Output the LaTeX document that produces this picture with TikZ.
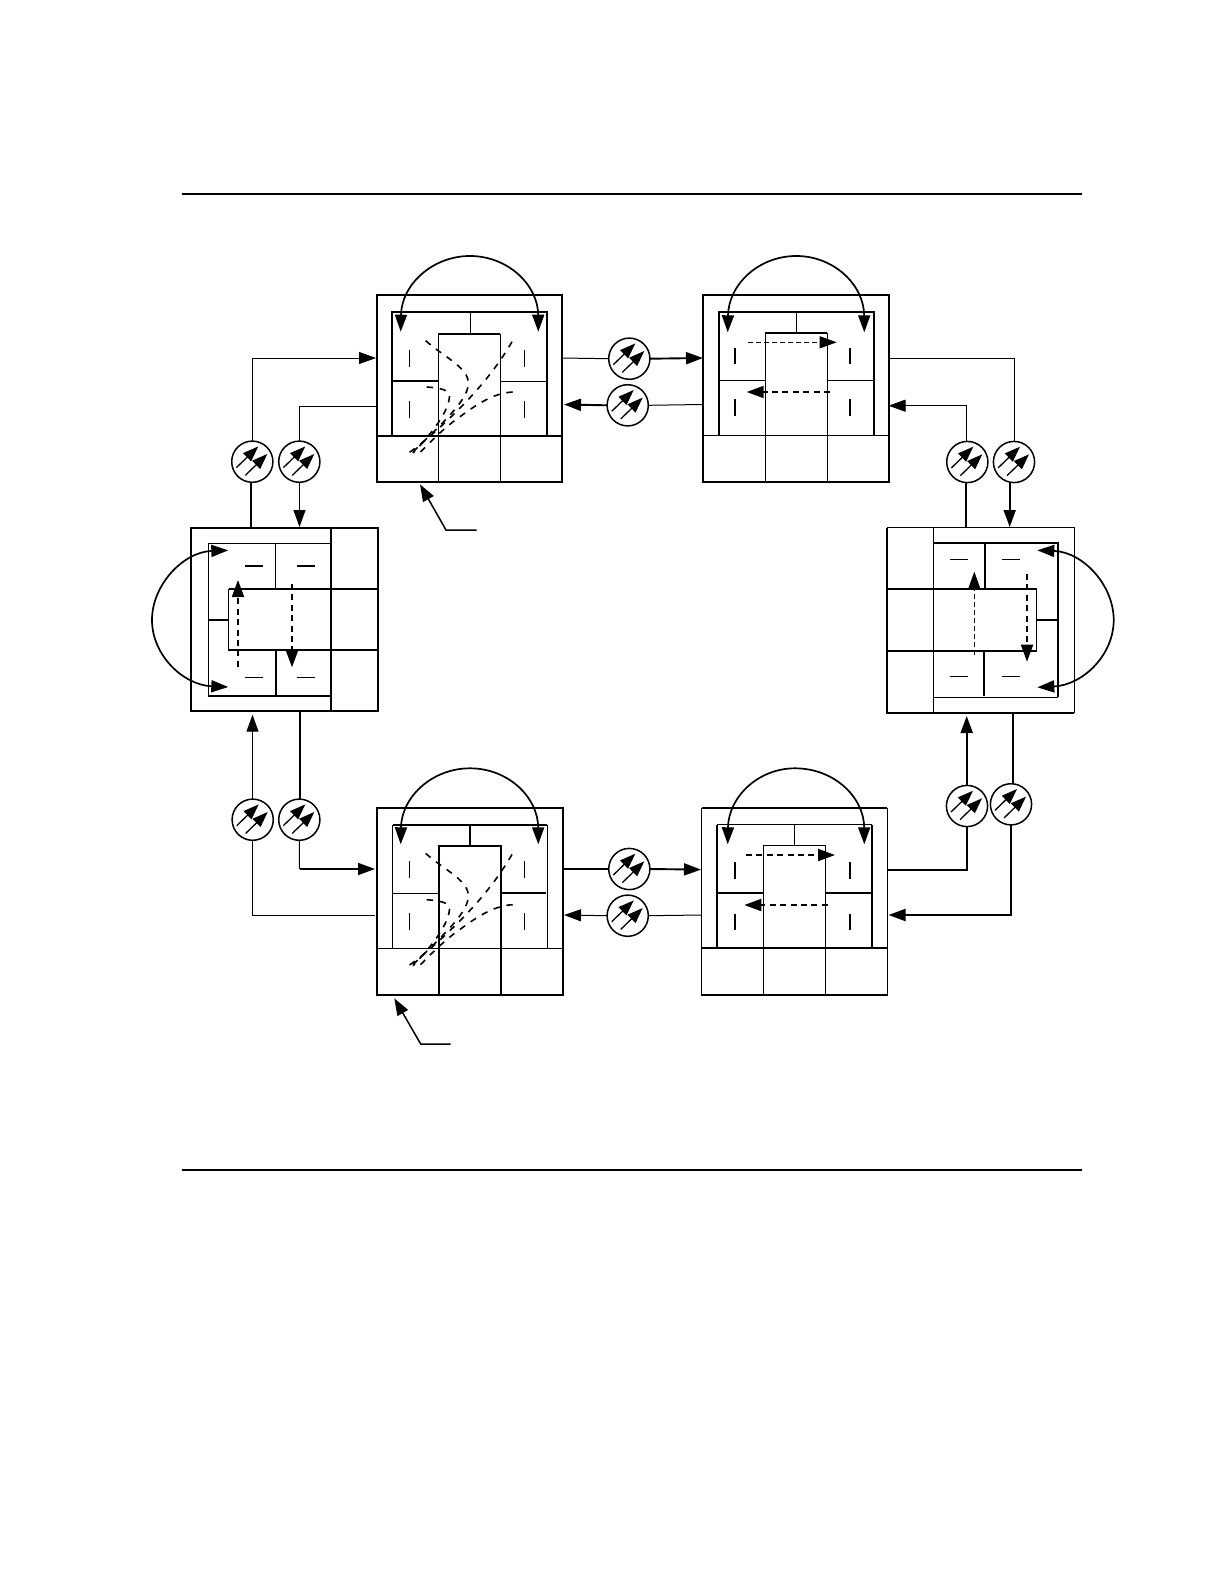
\documentclass[tikz,border=0pt]{standalone}
\usetikzlibrary{arrows.meta}
\tikzset{
  thinl/.style={line width=0.5pt},
  thickl/.style={line width=0.95pt},
  arr/.style={-{Triangle[length=8.5pt,width=6pt]}},
  darr/.style={{Triangle[length=8.5pt,width=6pt]}-{Triangle[length=8.5pt,width=6pt]},line width=0.85pt},
  outerbox/.style={rectangle,draw,fill=white,inner sep=0pt,outer sep=0pt},
  ampnode/.style={circle,draw,line width=0.75pt,fill=white,inner sep=0pt,outer sep=0pt,minimum size=20.6pt},
  ampa/.style={line width=0.65pt,-{Triangle[length=7.8pt,width=5.6pt]}},
  dashthin/.style={thinl,dash pattern=on 2.4pt off 1.6pt},
  dashthick/.style={line width=0.95pt,dash pattern=on 3pt off 2.2pt},
  dcurve/.style={line width=0.8pt,dash pattern=on 3.2pt off 3.4pt},
  tick/.style={line width=0.65pt},
}
\newcommand{\ampl}[3]{%
  \node[ampnode] (#1) at (#2,#3) {};
  \begin{scope}[shift={(#2,#3)}]
    \draw[ampa] (-16,6) -- (6,-15.3);
    \draw[ampa] (-7,13.7) -- (15,-7.7);
  \end{scope}}
\newcommand{\bx}[6]{%
  \node[outerbox,#6,minimum width={(#4-#2)*0.5pt},minimum height={(#5-#3)*0.5pt}] (#1) at ({(#2+#4)/2},{(#3+#5)/2}) {};}
\newcommand{\fan}[2]{%
  \begin{scope}[shift={(#1,#2)}]
    \draw[dcurve] (425.7,340.7) .. controls (445,358) and (470,368) .. (468.3,385) .. controls (466,403) and (440,425) .. (410,455);
    \draw[dcurve] (426.7,387) .. controls (440,388) and (450,390) .. (449.5,396) .. controls (449,410) and (435,430) .. (413,453);
    \draw[dcurve] (512,341.7) .. controls (498,366) and (480,388) .. (460,408) .. controls (445,423) and (425,442) .. (407,454);
    \draw[dcurve] (512.7,392) .. controls (495,393) and (480,402) .. (460,416.7) .. controls (445,427) and (430,442) .. (416.7,456);
  \end{scope}}
\begin{document}
\begin{tikzpicture}[x=0.5pt,y=-0.5pt,line cap=butt,line join=miter]
\useasboundingbox (0,0) rectangle (1224,1584);
\fill[white] (0,0) rectangle (1224,1584);

% page rules
\coordinate (ruleAa) at (181.5,194); \coordinate (ruleAb) at (1082,194);
\coordinate (ruleBa) at (181.5,1170); \coordinate (ruleBb) at (1082,1170);
\draw[thickl] (ruleAa) -- (ruleAb);
\draw[thickl] (ruleBa) -- (ruleBb);

% ---- top-left switch
\bx{TL}{376.7}{295}{562}{481.7}{thickl}
\draw[thickl] (376.7,435.7) -- (562,435.7);
\draw[thickl] (392,435.7) -- (392,311.7) -- (547,311.7) -- (547,435.7);
\draw[thickl] (438.3,334) -- (500.3,334);
\draw[thickl] (470.5,311.7) -- (470.5,334);
\draw[thinl] (438.3,334) -- (438.3,481.7);
\draw[thinl] (500.3,334) -- (500.3,481.7);
\draw[thickl] (392,380.7) -- (438.3,380.7);
\draw[thinl] (500.3,381.3) -- (547,381.3);
\foreach \x in {409.7,524.7}{\draw[tick] (\x,350) -- (\x,366.7); \draw[tick] (\x,401.3) -- (\x,418);}
\coordinate (TLal) at (400.7,331.7); \coordinate (TLar) at (538.3,331.7);
\draw[darr] (TLal) .. controls (401.5,285) and (432,256) .. (470,256) .. controls (508,256) and (538,285) .. (TLar);
\fan{0}{0}

% ---- top-right switch
\bx{TR}{703}{295}{889.3}{481.7}{thickl}
\draw[thinl] (703,435.3) -- (889.3,435.3);
\draw[thickl] (719,435.3) -- (719,311.7) -- (873.7,311.7) -- (873.7,435.3);
\draw[thickl] (765.3,332.7) -- (827.3,332.7);
\draw[thinl] (796.3,311.7) -- (796.3,332.7);
\draw[thinl] (765.3,332.7) -- (765.3,481.7);
\draw[thinl] (827.3,332.7) -- (827.3,481.7);
\draw[thinl] (719,380.3) -- (765.3,380.3);
\draw[thinl] (827.3,380.3) -- (873.7,380.3);
\foreach \x in {735,850}{\draw[tick] (\x,347.7) -- (\x,364.3); \draw[tick] (\x,399.3) -- (\x,416.3);}
\coordinate (TRal) at (727.7,332.3); \coordinate (TRar) at (864.3,332.3);
\draw[darr] (TRal) .. controls (728.5,285) and (758,256) .. (796.3,256) .. controls (834,256) and (864,285) .. (TRar);
\coordinate (TRd1a) at (748.3,342.3); \coordinate (TRd1b) at (836.7,342.3);
\coordinate (TRd2a) at (830,392); \coordinate (TRd2b) at (746.7,392);
\draw[dashthin,arr] (TRd1a) -- (TRd1b);
\draw[dashthick,arr] (TRd2a) -- (TRd2b);

% ---- bottom-left switch
\bx{BL}{377}{808}{563}{995}{thickl}
\draw[thinl] (377,948.3) -- (563,948.3);
\draw[thinl] (392.7,948.3) -- (392.7,825);
\draw[thinl] (547.3,825) -- (547.3,948.3);
\draw[thickl] (392.7,825) -- (547.3,825);
\draw[thickl] (439,995) -- (439,845.7) -- (501,845.7) -- (501,995);
\draw[thickl] (469.7,825) -- (469.7,845.7);
\draw[thinl] (392.7,893.3) -- (439,893.3);
\draw[thickl] (501,892.7) -- (545.7,892.7);
\foreach \x in {409.7,524.7}{\draw[tick] (\x,861) -- (\x,877.5); \draw[tick] (\x,913) -- (\x,929.5);}
\coordinate (BLal) at (400.7,844.3); \coordinate (BLar) at (538.3,844.3);
\draw[darr] (BLal) .. controls (401.5,797) and (432,768.3) .. (470,768.3) .. controls (508,768.3) and (538,797) .. (BLar);
\fan{0}{512.7}

% ---- bottom-right switch
\bx{BR}{701.7}{808}{887.3}{995}{thinl}
\draw[thickl] (701.7,808) -- (887.3,808);
\draw[thickl] (701.7,995) -- (887.3,995);
\draw[thickl] (701.7,947.7) -- (887.3,947.7);
\draw[thickl] (717,947.7) -- (717,824.7);
\draw[thickl] (872.3,824.7) -- (872.3,947.7);
\draw[thinl] (717,824.7) -- (872.3,824.7);
\draw[thinl] (763.3,995) -- (763.3,845.3) -- (825.3,845.3) -- (825.3,995);
\draw[thinl] (794.3,824.7) -- (794.3,845.3);
\draw[thickl] (717,893) -- (763.3,893);
\draw[thickl] (825.3,893) -- (872.3,893);
\foreach \x in {735,850}{\draw[tick] (\x,862.3) -- (\x,878.7); \draw[tick] (\x,913.7) -- (\x,930);}
\coordinate (BRal) at (727.7,844.3); \coordinate (BRar) at (864.3,844.3);
\draw[darr] (BRal) .. controls (728.5,797) and (758,768.3) .. (795,768.3) .. controls (834,768.3) and (864,797) .. (BRar);
\coordinate (BRd1a) at (746,855); \coordinate (BRd1b) at (835,855);
\coordinate (BRd2a) at (827.7,905); \coordinate (BRd2b) at (744.3,905);
\draw[dashthick,arr] (BRd1a) -- (BRd1b);
\draw[dashthick,arr] (BRd2a) -- (BRd2b);

% ---- left switch
\bx{LL}{191}{528}{378}{711}{thickl}
\draw[thickl] (331,528) -- (331,711);
\draw[thickl] (228.7,589) -- (378,589);
\draw[thickl] (228,650) -- (378,650);
\draw[thinl] (228.7,589) -- (228.7,650);
\draw[thinl] (331,543.7) -- (208,543.7) -- (208,695.7);
\draw[thickl] (208,695.7) -- (331,695.7);
\draw[thickl] (208,620) -- (228.7,620);
\draw[thinl] (275.3,543.7) -- (275.3,589);
\draw[thickl] (276,650) -- (276,695.7);
\foreach \x/\y in {245.3/262.7,297.3/314.7}{\draw[tick] (\x,566) -- (\y,566); \draw[tick] (\x,677.7) -- (\y,677.7);}
\coordinate (LLat) at (228.3,550.3); \coordinate (LLab) at (228.3,687);
\draw[darr] (LLat) .. controls (183,552) and (152,585) .. (152,620) .. controls (152,655) and (183,685) .. (LLab);
\coordinate (LLd1a) at (238,666.7); \coordinate (LLd1b) at (238,580);
\coordinate (LLd2a) at (292,584); \coordinate (LLd2b) at (292,667.3);
\draw[dashthick,arr] (LLd1a) -- (LLd1b);
\draw[dashthick,arr] (LLd2a) -- (LLd2b);

% ---- right switch
\bx{RR}{887}{527.7}{1074}{712.7}{thinl}
\draw[thickl] (887,527.7) -- (887,712.7) -- (1074,712.7);
\draw[thinl] (933.3,527.7) -- (933.3,712.7);
\draw[thickl] (933.3,543.3) -- (1058,543.3) -- (1058,697);
\draw[thinl] (933.3,697) -- (1058,697);
\draw[thickl] (887,589) -- (1037.3,589);
\draw[thickl] (887,650.7) -- (1037.3,650.7);
\draw[thinl] (1036.3,589) -- (1036.3,650.7);
\draw[thickl] (1036.3,620) -- (1058,620);
\draw[thickl] (985,543.3) -- (985,590);
\draw[thickl] (984,650.7) -- (984,696);
\foreach \x/\y in {950.3/968,1002.3/1020}{\draw[tick] (\x,559.7) -- (\y,559.7); \draw[tick] (\x,676.3) -- (\y,676.3);}
\coordinate (RRat) at (1037.3,550.3); \coordinate (RRab) at (1037.3,687.3);
\draw[darr] (RRat) .. controls (1083,552) and (1113.7,585) .. (1113.7,620) .. controls (1113.7,655) and (1083,685) .. (RRab);
\coordinate (RRd1a) at (974.3,655); \coordinate (RRd1b) at (974.3,571.7);
\coordinate (RRd2a) at (1027,574); \coordinate (RRd2b) at (1027,661.7);
\draw[dashthin,arr] (RRd1a) -- (RRd1b);
\draw[dashthick,arr] (RRd2a) -- (RRd2b);

% ---- amplifiers
\ampl{cTa}{629.3}{358.7}
\ampl{cTb}{627.7}{405.3}
\ampl{cBa}{629.3}{869}
\ampl{cBb}{627.7}{915.7}
\ampl{cLa}{252.3}{461.7}
\ampl{cLb}{299.3}{461.7}
\ampl{cRa}{967.3}{462}
\ampl{cRb}{1014}{462}
\ampl{cSLa}{252.7}{819.7}
\ampl{cSLb}{299.3}{819.7}
\ampl{cSRa}{967}{806}
\ampl{cSRb}{1011}{804.3}

% ---- ports
\coordinate (pTLw1) at (376,358);   \coordinate (pTLw2) at (376,406);
\coordinate (pTLe1) at (562,358);   \coordinate (pTLe2) at (564,404.5);
\coordinate (pTRw1) at (703,358);   \coordinate (pTRw2) at (702,404.5);
\coordinate (pTRe1) at (889.3,358); \coordinate (pTRe2) at (888.5,405.7);
\coordinate (pLLn1) at (251,528);   \coordinate (pLLn2) at (299.5,527);
\coordinate (pLLs1) at (252.5,714.7); \coordinate (pLLs2) at (299.7,711);
\coordinate (pRRn1) at (966,527.7); \coordinate (pRRn2) at (1009.7,527);
\coordinate (pRRs1) at (966.7,716); \coordinate (pRRs2) at (1012.7,712.7);
\coordinate (pBLw1) at (375,869);   \coordinate (pBLw2) at (375,915);
\coordinate (pBLe1) at (563,869);   \coordinate (pBLe2) at (564,915);
\coordinate (pBRw1) at (701,869.6); \coordinate (pBRw2) at (701.7,915);
\coordinate (pBRe1) at (887.3,869.6); \coordinate (pBRe2) at (888.5,915);
\coordinate (pSLbend) at (299.5,869);

% ---- connectors
\draw[thinl,arr] (cLa.north) |- (pTLw1);
\draw[thinl] (cLb.north) |- (pTLw2);
\draw[thickl] (pLLn1 |- cLa.south) -- (pLLn1);
\draw[thinl,arr] (pLLn2 |- cLb.south) -- (pLLn2);

\draw[thinl] (pTLe1) -- (cTa.west);
\draw[thickl,arr] (cTa.east) -- (pTRw1);
\draw[thinl] (pTRw2) -- (cTb.east);
\draw[thickl,arr] (cTb.west) -- (pTLe2);

\draw[thinl] (pTRe1) -| (cRb.north);
\draw[thinl,arr] (pRRn1 |- cRa.north) |- (pTRe2);
\draw[thickl] (pRRn1 |- cRa.south) -- (pRRn1);
\draw[thickl,arr] (pRRn2 |- cRb.south) -- (pRRn2);

\draw[thickl,arr] (pRRs1 |- cSRa.north) -- (pRRs1);
\draw[thickl] (pRRs2 |- cSRb.north) -- (pRRs2);
\draw[thickl] (cSRa.south) |- (pBRe1);
\draw[thickl,arr] (cSRb.south) |- (pBRe2);

\draw[thickl] (pBLe1) -- (cBa.west);
\draw[thickl,arr] (cBa.east) -- (pBRw1);
\draw[thinl] (pBRw2) -- (cBb.east);
\draw[thinl,arr] (cBb.west) -- (pBLe2);

\draw[thinl,arr] (pLLs1 |- cSLa.north) -- (pLLs1);
\draw[thickl] (pLLs2 |- cSLb.north) -- (pLLs2);
\draw[thinl] (cSLb.south) -- (pSLbend);
\draw[thickl,arr] (pSLbend) -- (pBLw1);
\draw[thinl] (cSLa.south) |- (pBLw2);

% ---- pointers
\coordinate (ptrAa) at (476.7,530); \coordinate (ptrAb) at (446,530); \coordinate (ptrAc) at (420,484.3);
\coordinate (ptrBa) at (450.7,1044); \coordinate (ptrBb) at (420.7,1044); \coordinate (ptrBc) at (394.3,998.3);
\draw[line width=0.75pt,arr] (ptrAa) -- (ptrAb) -- (ptrAc);
\draw[line width=0.75pt,arr] (ptrBa) -- (ptrBb) -- (ptrBc);
\end{tikzpicture}
\end{document}
